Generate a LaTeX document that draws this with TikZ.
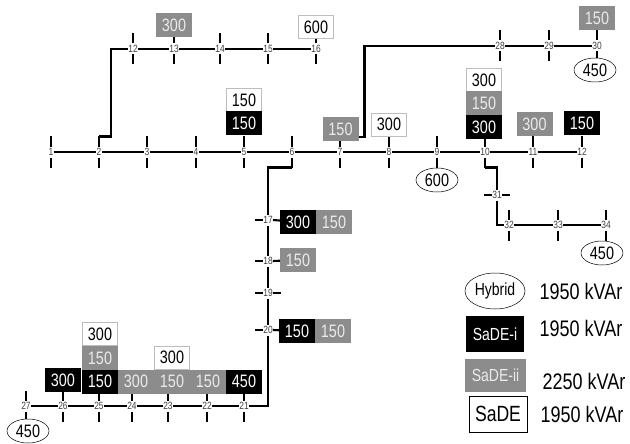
\documentclass[tikz,border=0pt]{standalone}
\usepackage{fontspec}
\setmainfont[FakeStretch=0.8]{Liberation Sans}
\usetikzlibrary{shapes.geometric}
\definecolor{sadegray}{HTML}{8C8C8C}
\definecolor{edgegray}{HTML}{BDBDBD}
\begin{document}
\begin{tikzpicture}[
  x=1pt,y=-1pt,
  line/.style={line width=2.1pt,black},
  bus/.style={fill=white,inner xsep=.3pt,outer sep=0pt,inner ysep=0pt,minimum height=11pt,text=black!75,font=\fontsize{10.5}{11}\selectfont},
  value/.style={minimum width=36pt,minimum height=24pt,inner sep=0pt,outer sep=0pt,font=\fontsize{18}{20}\selectfont},
  sade/.style={value,draw=edgegray,fill=white,line width=.7pt,minimum width=35pt,minimum height=23pt},
  sadei/.style={value,fill=black,text=white},
  sadeii/.style={value,fill=sadegray,text=white!92!black},
  hybrid/.style={draw,ellipse,fill=white,line width=.5pt,minimum width=42pt,minimum height=24pt,inner sep=0pt,font=\fontsize{18}{20}\selectfont},
  total/.style={inner sep=0pt,font=\fontsize{22.5}{24}\selectfont}
]
\useasboundingbox (0,0) rectangle (630,444);

% buses
\foreach \n/\x/\y in {1/51/152,2/99/152,3/147/152,4/196/152,5/244/152,6/292/152,7/340/152,8/389/152,9/437/152,10/485/152,11/533/152,12/582/152,
  13/174/49,14/220/49,15/268/49,16/316/49,
  28/500/46,29/549/46,30/597/46,
  32/509/225,33/558/225,34/606/225,
  27/26/406,26/63/406,25/99/406,24/132/406,23/168/406,22/207/406,21/244/406}{
  \node[bus] (b\n) at (\x,\y) {\n};
}
\node[bus] (b12u) at (133,49) {12};
\foreach \n/\y in {17/220,18/261,19/293,20/330}{
  \node[bus] (b\n) at (268,\y) {\n};
}
\node[bus] (b31) at (497,195) {31};

% ticks
\foreach \n in {1,...,16,12u,21,22,...,30,32,33,34}{
  \draw[line] (b\n.north) -- ++(0,-10) coordinate (up\n);
  \draw[line] (b\n.south) -- ++(0,10) coordinate (dn\n);
}
\foreach \n in {17,18,19,20,31}{
  \draw[line] (b\n.west) -- ++(-8,0);
}
\draw[line] (b19.east) -- ++(8,0);
\draw[line] (b31.east) -- ++(8,0);

% values
\node[sadeii] (g13) at (174,25) {300};
\node[sade] (w16) at (316,27) {600};
\node[sade] (w5) at (244,100) {150};
\node[sadei] (k5) at (244,123.5) {150};
\node[sadeii] (g7) at (340.5,129.5) {150};
\node[sade] (w8) at (389,124.5) {300};
\node[sade] (w10) at (484,80) {300};
\node[sadeii] (g10) at (484,103) {150};
\node[sadei] (k10) at (484,127) {300};
\node[sadeii] (g11) at (534.5,124) {300};
\node[sadei] (k12) at (582,123.5) {150};
\node[sadeii] (g30) at (597,18) {150};
\node[sadei] (k17) at (298,222) {300};
\node[sadeii] (g17) at (334,222) {150};
\node[sadeii] (g18) at (298,260) {150};
\node[sadei] (k20) at (297,331) {150};
\node[sadeii] (g20) at (333,331) {150};
\node[sadei] (k26) at (63,380) {300};
\node[sade] (w25) at (100,334) {300};
\node[sadeii] (g25) at (100,358) {150};
\node[sadei] (k25) at (100,381.5) {150};
\node[sadeii] (g24) at (136,381.5) {300};
\node[sade] (w23) at (172,357.5) {300};
\node[sadeii] (g23) at (172,381.5) {150};
\node[sadeii] (g22) at (208,381.5) {150};
\node[sadei] (k21) at (244,381.5) {450};
\node[hybrid] (h9) at (437,180) {600};
\node[hybrid] (h30) at (595,70) {450};
\node[hybrid] (h34) at (602,253) {450};
\node[hybrid] (h27) at (28,431) {450};

% feeders
\draw[line] (b1) -- (b2) -- (b3) -- (b4) -- (b5) -- (b6) -- (b7) -- (b8) -- (b9) -- (b10) -- (b11) -- (b12);
\draw[line] (up2) -- ++(12,0) |- (b12u);
\draw[line] (b12u) -- (b13) -- (b14) -- (b15) -- (b16);
\draw[line] ([yshift=-7.5pt]g7.east) -- ++(6,0) |- (b28);
\draw[line] (b28) -- (b29) -- (b30);
\draw[line] (dn10) -| (b31);
\draw[line] (b31) |- (b32);
\draw[line] (b32) -- (b33) -- (b34);
\draw[line] (dn6) -| (b17);
\draw[line] (b17) -- (b18) -- (b19) -- (b20);
\draw[line] (b17.east) -- (k17);
\draw[line] (b18.east) -- (g18);
\draw[line] (b20.east) -- (k20);
\draw[line] (b20) |- (b21);
\draw[line] (b21) -- (b22) -- (b23) -- (b24) -- (b25) -- (b26) -- (b27);

% legend
\node[draw,ellipse,line width=.5pt,minimum width=60pt,minimum height=36pt,inner sep=0pt,font=\fontsize{17.5}{19}\selectfont] (hybridkey) at (495,291) {Hybrid};
\node[sadei,minimum width=58pt,minimum height=36pt,font=\fontsize{17.5}{19}\selectfont] (sadeikey) at (495,334) {SaDE-i};
\node[sadeii,minimum width=61pt,minimum height=33pt,font=\fontsize{17.5}{19}\selectfont] (sadeiikey) at (495.5,375) {SaDE-ii};
\node[draw,line width=.7pt,minimum width=58pt,minimum height=36pt,inner sep=0pt,font=\fontsize{22}{24}\selectfont] (sadekey) at (498,414) {SaDE};
\node[total] (hybridtotal) at (581,291) {1950 kVAr};
\node[total] (sadeitotal) at (581,328) {1950 kVAr};
\node[total] (sadeiitotal) at (584,381) {2250 kVAr};
\node[total] (sadetotal) at (582,414) {1950 kVAr};
\end{tikzpicture}
\end{document}
